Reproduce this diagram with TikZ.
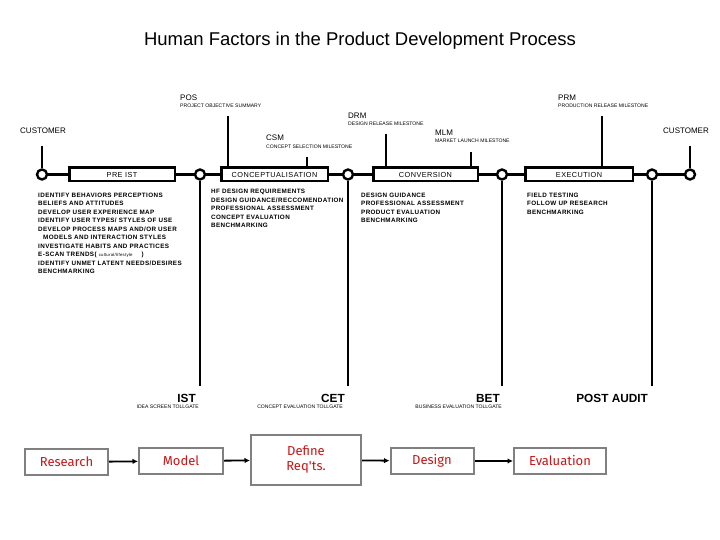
\documentclass[tikz,border=0pt]{standalone}
\usepackage{fontspec}
\setmainfont{Liberation Sans}
\newfontfamily\handfont{Fira Sans}
\newfontfamily\spacedfont[LetterSpace=6]{Liberation Sans}
\usetikzlibrary{arrows.meta}
\definecolor{boxred}{RGB}{200,20,20}
\definecolor{boxgray}{RGB}{128,128,128}
\begin{document}
\begin{tikzpicture}[x=1pt,y=-1pt,
  tl/.style={line width=2.5pt},
  vl/.style={line width=2.2pt},
  phase/.style={draw, line width=2.5pt, minimum height=13.5pt, inner sep=0pt, font=\spacedfont\fontsize{7.3}{8}\selectfont},
  dot/.style={circle, draw, fill=white, line width=2.4pt, minimum size=10pt, inner sep=0pt},
  lab/.style={anchor=base west, inner sep=0pt, font=\fontsize{8}{9}\selectfont},
  sub/.style={anchor=base west, inner sep=0pt, font=\fontsize{5.1}{6}\selectfont},
  subr/.style={anchor=base east, inner sep=0pt, font=\fontsize{5.1}{6}\selectfont},
  list/.style={anchor=north west, inner sep=0pt, align=left, font=\spacedfont\bfseries\fontsize{6.3}{8.5}\selectfont},
  gate/.style={anchor=base east, inner sep=0pt, font=\bfseries\fontsize{11.8}{13}\selectfont},
  flowbox/.style={draw=boxgray, line width=2pt, text=boxred, inner sep=0pt, align=center, font=\handfont\fontsize{13}{15}\selectfont},
  flowarrow/.style={line width=1.8pt, -{Latex[length=5.5pt,width=5.5pt]}}
]
\useasboundingbox (0,0) rectangle (720,540);

% title
\node[font=\fontsize{18.5}{22}\selectfont, inner sep=0pt] (title) at (360,41) {Human Factors in the Product Development Process};

% timeline circles
\node[dot] (c1) at (42,174.5) {};
\node[dot] (c2) at (200,174.5) {};
\node[dot] (c3) at (348,174.5) {};
\node[dot] (c4) at (502,174.5) {};
\node[dot] (c5) at (652,174.5) {};
\node[dot] (c6) at (690,174.5) {};

% phase boxes
\node[phase, minimum width=105.5pt] (pre) at (122,174.5) {PRE IST};
\node[phase, minimum width=106.5pt] (concept) at (274.5,174.5) {CONCEPTUALISATION};
\node[phase, minimum width=104.5pt] (conv) at (425.5,174.5) {CONVERSION};
\node[phase, minimum width=107.5pt] (exec) at (579,174.5) {EXECUTION};

% timeline segments
\draw[tl] (c1) -- (pre);
\draw[tl] (pre) -- (c2);
\draw[tl] (c2) -- (concept);
\draw[tl] (concept) -- (c3);
\draw[tl] (c3) -- (conv);
\draw[tl] (conv) -- (c4);
\draw[tl] (c4) -- (exec);
\draw[tl] (exec) -- (c5);
\draw[tl] (c5) -- (c6);

% milestone labels
\node[lab] (custL) at (20,134) {CUSTOMER};
\node[lab] (custR) at (663,134) {CUSTOMER};
\node[lab] (pos) at (180,101) {POS};
\node[sub] (possub) at (180,107.5) {PROJECT OBJECTIVE SUMMARY};
\node[lab] (prm) at (558,101) {PRM};
\node[sub] (prmsub) at (558,107.5) {PRODUCTION RELEASE MILESTONE};
\node[lab] (drm) at (348,119) {DRM};
\node[sub] (drmsub) at (348,125.5) {DESIGN RELEASE MILESTONE};
\node[lab] (csm) at (266,141) {CSM};
\node[sub] (csmsub) at (266,148.5) {CONCEPT SELECTION MILESTONE};
\node[lab] (mlm) at (435,136) {MLM};
\node[sub] (mlmsub) at (435,143) {MARKET LAUNCH MILESTONE};

% milestone drop lines
\coordinate (custLtop) at (42,146);
\coordinate (custRtop) at (690,146);
\coordinate (postop) at (228,116);
\coordinate (csmtop) at (307,157);
\coordinate (drmtop) at (386,134);
\coordinate (mlmtop) at (471,152);
\coordinate (prmtop) at (602,116);
\draw[vl] (custLtop) -- (c1);
\draw[vl] (custRtop) -- (c6);
\draw[vl] (postop) -- (postop |- concept.north);
\draw[vl] (csmtop) -- (csmtop |- concept.north);
\draw[vl] (drmtop) -- (drmtop |- conv.north);
\draw[vl] (mlmtop) -- (mlmtop |- conv.north);
\draw[vl] (prmtop) -- (prmtop |- exec.north);

% gate lines
\coordinate (e2) at (200,386);
\coordinate (e3) at (348,386);
\coordinate (e4) at (502,386);
\coordinate (e5) at (652,386);
\draw[vl] (c2) -- (e2);
\draw[vl] (c3) -- (e3);
\draw[vl] (c4) -- (e4);
\draw[vl] (c5) -- (e5);

% activity lists
\node[list] (prelist) at (38,192.5) {IDENTIFY BEHAVIORS PERCEPTIONS\\
BELIEFS AND ATTITUDES\\
DEVELOP USER EXPERIENCE MAP\\
IDENTIFY USER TYPES/ STYLES OF USE\\
DEVELOP PROCESS MAPS AND/OR USER\\
\hspace{5pt}MODELS AND INTERACTION STYLES\\
INVESTIGATE HABITS AND PRACTICES\\
E-SCAN TRENDS( {\mdseries\fontsize{4.3}{5}\selectfont cultural/lifestyle}\hspace{9pt})\\
IDENTIFY UNMET LATENT NEEDS/DESIRES\\
BENCHMARKING};
\node[list] (conclist) at (211,189) {HF DESIGN REQUIREMENTS\\
DESIGN GUIDANCE/RECCOMENDATION\\
PROFESSIONAL ASSESSMENT\\
CONCEPT EVALUATION\\
BENCHMARKING};
\node[list] (convlist) at (361,192.5) {DESIGN GUIDANCE\\
PROFESSIONAL ASSESSMENT\\
PRODUCT EVALUATION\\
BENCHMARKING};
\node[list] (execlist) at (527,192.5) {FIELD TESTING\\
FOLLOW UP RESEARCH\\
BENCHMARKING};

% tollgates
\node[gate] (ist) at (196,402) {IST};
\node[subr] (istsub) at (199,408) {IDEA SCREEN TOLLGATE};
\node[gate] (cet) at (345,402) {CET};
\node[subr] (cetsub) at (343,408) {CONCEPT EVALUATION TOLLGATE};
\node[gate] (bet) at (500,402) {BET};
\node[subr] (betsub) at (502,408) {BUSINESS EVALUATION TOLLGATE};
\node[gate] (post) at (648,402) {POST AUDIT};

% bottom flow
\node[flowbox, minimum width=83pt, minimum height=26pt] (research) at (66.5,462) {Research};
\node[flowbox, minimum width=84pt, minimum height=26pt] (model) at (181,461) {Model};
\node[flowbox, minimum width=110pt, minimum height=50pt] (define) at (306,460) {Define\\Req'ts.};
\node[flowbox, minimum width=83pt, minimum height=26pt] (design) at (432,461) {Design};
\node[flowbox, minimum width=92pt, minimum height=26pt] (eval) at (560,461) {Evaluation};
\draw[flowarrow] (research) -- (model);
\draw[flowarrow] (model) -- (define);
\draw[flowarrow] (define) -- (design);
\draw[flowarrow] (design) -- (eval);
\end{tikzpicture}
\end{document}
